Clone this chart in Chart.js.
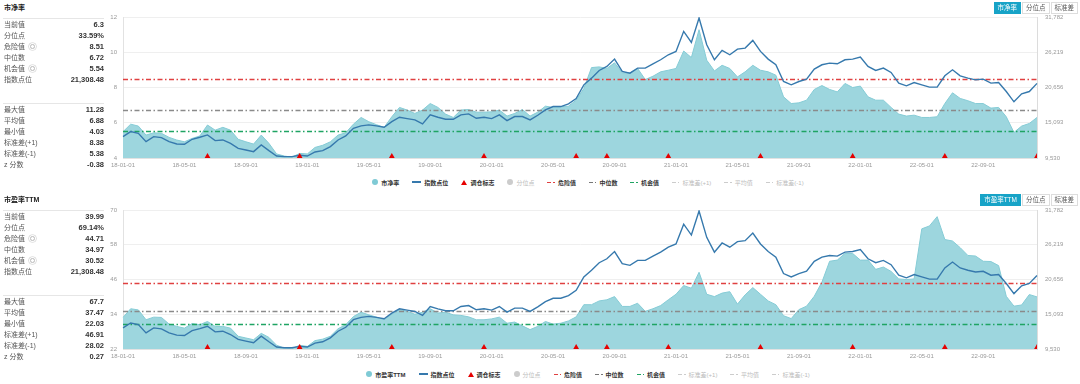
<!DOCTYPE html>
<html>
<head>
<meta charset="utf-8">
<script src="https://cdn.jsdelivr.net/npm/chart.js@4.4.0/dist/chart.umd.min.js"></script>
<style>
  body { margin: 0; width: 1080px; height: 384px; background: #fff; position: relative; overflow: hidden;
         font-family: 'Liberation Sans', 'Noto Sans CJK SC', sans-serif; }
  .panel { position: absolute; left: 0; width: 1080px; height: 192px; }
  .title { position: absolute; left: 4px; top: 3px; font-size: 7px; line-height: 10px; font-weight: bold; color: #222; }
  .sep { position: absolute; left: 3px; width: 101px; height: 1px; background: #e6e6e6; }
  .row { position: absolute; left: 4px; width: 100px; height: 11px; line-height: 11px; font-size: 7px; color: #555; }
  .row b { position: absolute; right: 0; top: 0; color: #333; font-size: 7.5px; }
  .row i { display: inline-block; width: 3px; height: 3px; border-radius: 50%; border: 1px solid #bbb;
           box-shadow: 0 0 0 1px #fff, 0 0 0 1.6px #ccc; margin-left: 5px; vertical-align: 0; }
  .cv { position: absolute; left: 100px; top: 0; }
  .btns { position: absolute; top: 2px; right: 2px; display: flex; }
  .btns span { display: block; height: 10px; line-height: 10px; padding: 0 3px; font-size: 6.5px; color: #555;
               border: 1px solid #ddd; margin-left: 1px; background: #fff; }
  .btns span.on { background: #17a3c7; border-color: #17a3c7; color: #fff; }
  .legend { position: absolute; left: 96px; width: 984px; top: 177px; height: 10px; display: flex;
            justify-content: center; align-items: center; gap: 13px; font-size: 6px; }
  .lg { display: flex; align-items: center; gap: 3px; color: #bbb; }
  .lg.on { color: #333; font-weight: bold; }
  .ic-dot { width: 6px; height: 6px; border-radius: 50%; }
  .ic-line { width: 9px; height: 1.5px; }
  .ic-tri { width: 0; height: 0; border-left: 3px solid transparent; border-right: 3px solid transparent; border-bottom: 5px solid #e60000; }
  .ic-dd { display: flex; align-items: center; gap: 2px; }
  .ic-dd span { display: block; height: 1px; }
</style>
</head>
<body>
<div class="panel" id="p1">
  <canvas class="cv" id="c1" width="980" height="175"></canvas>
</div>
<div class="panel" id="p2" style="top:192px">
  <canvas class="cv" id="c2" width="980" height="175"></canvas>
</div>
<script>
// 半月一个点: 18-01-01, 18-01-16, ... 22-12-16
const fechas = [];
for (let y = 18; y <= 22; y++) {
  for (let m = 1; m <= 12; m++) {
    fechas.push(`${y}-${String(m).padStart(2, '0')}-01`, `${y}-${String(m).padStart(2, '0')}-16`);
  }
}
const xTickLabels = ['18-01-01','18-05-01','18-09-01','19-01-01','19-05-01','19-09-01','20-01-01','20-05-01',
                     '20-09-01','21-01-01','21-05-01','21-09-01','22-01-01','22-05-01','22-09-01'];

// 指数点位
const indexPoints = [
  12905,13696,13432,12114,12905,12746,12114,11745,11692,12483,12799,13168,12272,12377,11850,11059,10796,10532,11586,10690,
  9846,9741,9741,9952,9846,10479,10690,11323,12377,13010,14223,14592,14750,14592,14381,15278,15963,15752,15541,14908,
  16332,15963,15647,15647,16332,16490,15805,15963,15752,16332,15436,16069,16069,15541,16279,17123,17650,17650,18072,18916,
  21078,22132,23345,23978,25138,23187,22923,23714,23714,24400,25033,25824,26351,29514,27774,31624,27406,25033,26509,25824,
  26720,26878,28091,26351,25138,24242,21605,21078,21605,21974,23556,24242,24506,24400,25033,25138,25454,23978,23345,23714,
  23029,21341,20920,21447,21078,20709,20709,22502,23451,22502,22132,21869,21974,21341,21447,20023,18400,19654,20023,21308
];
// 市净率
const pbValues = [
  5.49,5.92,5.81,5.30,5.43,5.40,5.17,5.02,4.92,5.11,5.25,5.87,5.58,5.74,5.58,5.06,4.92,4.79,5.30,4.83,
  4.23,4.11,4.05,4.26,4.23,4.60,4.72,4.92,5.30,5.43,5.92,6.30,6.06,5.89,5.74,6.34,6.87,6.72,6.53,6.72,
  7.09,6.87,6.49,6.30,6.72,6.75,6.60,6.60,6.62,6.72,6.38,6.53,6.75,6.38,6.60,6.94,6.87,6.91,6.94,7.28,
  7.94,9.13,9.17,9.08,9.40,8.83,8.83,9.08,8.45,8.64,8.89,8.98,9.08,10.07,9.70,11.28,9.55,8.94,9.26,9.08,
  8.60,8.89,9.26,8.98,8.89,8.70,7.47,7.09,7.13,7.28,7.89,8.11,7.89,7.75,8.23,8.00,8.08,7.47,7.28,7.28,
  6.87,6.49,6.38,6.43,6.30,6.30,6.34,7.09,7.70,7.38,7.25,7.09,7.09,6.83,6.87,6.34,5.45,5.81,5.96,6.30
];
// 市盈率TTM
const peValues = [
  32.9,35.9,35.5,32.1,33.0,32.9,30.6,29.8,29.2,30.8,30.4,31.5,29.8,29.8,29.2,26.4,25.8,25.2,27.4,26.0,
  23.3,22.3,22.1,23.3,22.9,24.9,25.4,26.4,29.0,30.4,33.2,34.7,33.8,33.0,32.1,34.0,35.6,35.0,34.0,34.7,
  35.9,34.4,34.7,33.8,33.6,33.1,32.1,32.1,32.4,33.0,30.9,31.3,30.0,28.7,29.8,31.5,30.6,30.9,31.7,33.1,
  37.3,37.3,38.6,39.0,40.1,36.7,36.7,37.8,35.0,35.9,37.0,39.0,40.9,43.9,43.0,48.5,40.9,40.1,41.3,41.8,
  37.5,40.7,43.2,40.9,38.6,37.3,33.5,32.5,35.6,36.8,40.2,45.1,52.3,52.7,55.0,55.0,52.7,52.7,49.5,50.3,
  48.8,46.2,46.0,46.2,63.5,64.5,67.7,59.8,59.3,57.0,54.3,54.1,52.3,52.2,50.8,40.2,36.8,37.2,40.8,40.0
];
// 调仓标志
const rebalanceDates = ['18-06-16','18-12-16','19-06-16','19-12-16','20-06-16','20-08-16','20-12-16','21-06-16','21-12-16','22-06-16','22-12-16'];

const indexTicks = [9530, 15093, 20656, 26219, 31782];
const pbTicks = [4, 6, 8, 10, 12];
const peTicks = [22, 34, 46, 58, 70];

// 危险值 / 中位数 / 机会值
const pbLines = [8.51, 6.72, 5.54];
const peLines = [44.71, 34.97, 30.52];
const lineColors = ['#e04040', '#8a8a8a', '#1fa463'];

const statLabelsA = ['当前值', '分位点', '危险值', '中位数', '机会值', '指数点位'];
const statLabelsB = ['最大值', '平均值', '最小值', '标准差(+1)', '标准差(-1)', 'z 分数'];
const pbStatsA = ['6.3', '33.59%', '8.51', '6.72', '5.54', '21,308.48'];
const pbStatsB = ['11.28', '6.88', '4.03', '8.38', '5.38', '-0.38'];
const peStatsA = ['39.99', '69.14%', '44.71', '34.97', '30.52', '21,308.48'];
const peStatsB = ['67.7', '37.47', '22.03', '46.91', '28.02', '0.27'];

const legendRest = ['指数点位', '调仓标志', '分位点', '危险值', '中位数', '机会值', '标准差(+1)', '平均值', '标准差(-1)'];

Chart.defaults.font.family = "'Liberation Sans', 'Noto Sans CJK SC', sans-serif";

const areaColor = '#9dd6de';
const areaBorder = '#86ccd6';
const indexColor = '#3679ad';

// líneas horizontales punteadas (encima del área, debajo de la línea del índice)
const thresholdPlugin = {
  id: 'thresholdLines',
  afterDatasetDraw(chart, args, opts) {
    if (args.index !== 2) return;
    const { ctx, chartArea: a } = chart;
    const y = chart.scales.y;
    ctx.save();
    opts.values.forEach((v, i) => {
      const py = Math.round(y.getPixelForValue(v)) + 0.5;
      ctx.strokeStyle = lineColors[i];
      ctx.lineWidth = 1.4;
      ctx.setLineDash([5, 2.5, 1.5, 2.5]);
      ctx.beginPath();
      ctx.moveTo(a.left, py);
      ctx.lineTo(a.right, py);
      ctx.stroke();
    });
    ctx.restore();
  }
};

function buildPanel(panelId, title, button, statsA, statsB, top) {
  const p = document.getElementById(panelId);
  let html = `<div class="title" style="top:${top - 7}px">${title}</div>`;
  html += `<div class="sep" style="top:${top + 8}px"></div><div class="sep" style="top:${top + 93}px"></div>`;
  statLabelsA.forEach((l, k) => {
    const help = (l === '危险值' || l === '机会值') ? '<i></i>' : '';
    html += `<div class="row" style="top:${top + 9 + k * 11}px">${l}${help}<b>${statsA[k]}</b></div>`;
  });
  statLabelsB.forEach((l, k) => {
    html += `<div class="row" style="top:${top + 94 + k * 11}px">${l}<b>${statsB[k]}</b></div>`;
  });
  html += `<div class="btns"><span class="on">${button}</span><span>分位点</span><span>标准差</span></div>`;

  const icons = [
    `<div class="ic-line" style="background:${indexColor}"></div>`,
    `<div class="ic-tri"></div>`,
    `<div class="ic-dot" style="background:#ccc"></div>`,
    dd(lineColors[0]), dd('#777'), dd(lineColors[2]), dd('#ccc'), dd('#ccc'), dd('#ccc')
  ];
  let lg = `<div class="lg on"><div class="ic-dot" style="background:#7fcad5"></div>${button}</div>`;
  legendRest.forEach((l, k) => {
    const on = k < 2 || (k >= 3 && k <= 5);
    lg += `<div class="lg${on ? ' on' : ''}">${icons[k]}${l}</div>`;
  });
  html += `<div class="legend">${lg}</div>`;
  p.insertAdjacentHTML('beforeend', html);
}

function dd(c) {
  return `<div class="ic-dd"><span style="width:4px;background:${c}"></span><span style="width:1.5px;background:${c}"></span></div>`;
}

function crearGrafico(canvasId, label, values, ticks, lines, padTop, xHeight) {
  const yMin = ticks[0];
  const marcas = fechas.map(f => rebalanceDates.includes(f) ? yMin : null);
  new Chart(document.getElementById(canvasId), {
    type: 'line',
    data: {
      labels: fechas,
      datasets: [
        {
          label: '调仓标志', data: marcas, yAxisID: 'y', order: 0, showLine: false,
          pointStyle: 'triangle', pointRadius: 5, pointHoverRadius: 5,
          backgroundColor: '#e60000', borderColor: '#e60000', borderWidth: 0, clip: 0
        },
        {
          label: '指数点位', data: indexPoints, yAxisID: 'y1', order: 1,
          borderColor: indexColor, borderWidth: 1.4, pointRadius: 0, fill: false, tension: 0
        },
        {
          label: label, data: values, yAxisID: 'y', order: 2,
          borderColor: areaBorder, borderWidth: 1, backgroundColor: areaColor,
          pointRadius: 0, fill: 'start', tension: 0
        }
      ]
    },
    options: {
      responsive: false,
      animation: false,
      layout: { padding: { top: padTop, left: 0, right: 0, bottom: 0 } },
      plugins: {
        legend: { display: false },
        tooltip: { enabled: false },
        thresholdLines: { values: lines }
      },
      scales: {
        x: {
          grid: { display: false, drawTicks: false },
          border: { color: '#e2e2e2' },
          ticks: {
            autoSkip: false, maxRotation: 0, padding: 4, color: '#999', font: { size: 6 },
            callback: function (v) {
              const l = this.getLabelForValue(v);
              return xTickLabels.includes(l) ? l : '';
            }
          },
          afterFit: s => { s.height = xHeight; }
        },
        y: {
          min: ticks[0], max: ticks[ticks.length - 1],
          afterBuildTicks: s => { s.ticks = ticks.map(v => ({ value: v })); },
          grid: { color: '#efefef', drawTicks: false },
          border: { color: '#e2e2e2' },
          ticks: { padding: 6, color: '#999', font: { size: 6 } },
          afterFit: s => { s.width = 23; }
        },
        y1: {
          position: 'right',
          min: indexTicks[0], max: indexTicks[indexTicks.length - 1],
          afterBuildTicks: s => { s.ticks = indexTicks.map(v => ({ value: v })); },
          grid: { display: false, drawTicks: false },
          border: { color: '#dcdcdc' },
          ticks: { padding: 8, color: '#999', font: { size: 6 }, callback: v => v.toLocaleString('en-US') },
          afterFit: s => { s.width = 43; }
        }
      }
    },
    plugins: [thresholdPlugin]
  });
}

buildPanel('p1', '市净率', '市净率', pbStatsA, pbStatsB, 10);
buildPanel('p2', '市盈率TTM', '市盈率TTM', peStatsA, peStatsB, 10);
crearGrafico('c1', '市净率', pbValues, pbTicks, pbLines, 17, 17);
crearGrafico('c2', '市盈率TTM', peValues, peTicks, peLines, 18, 18);
</script>
</body>
</html>
